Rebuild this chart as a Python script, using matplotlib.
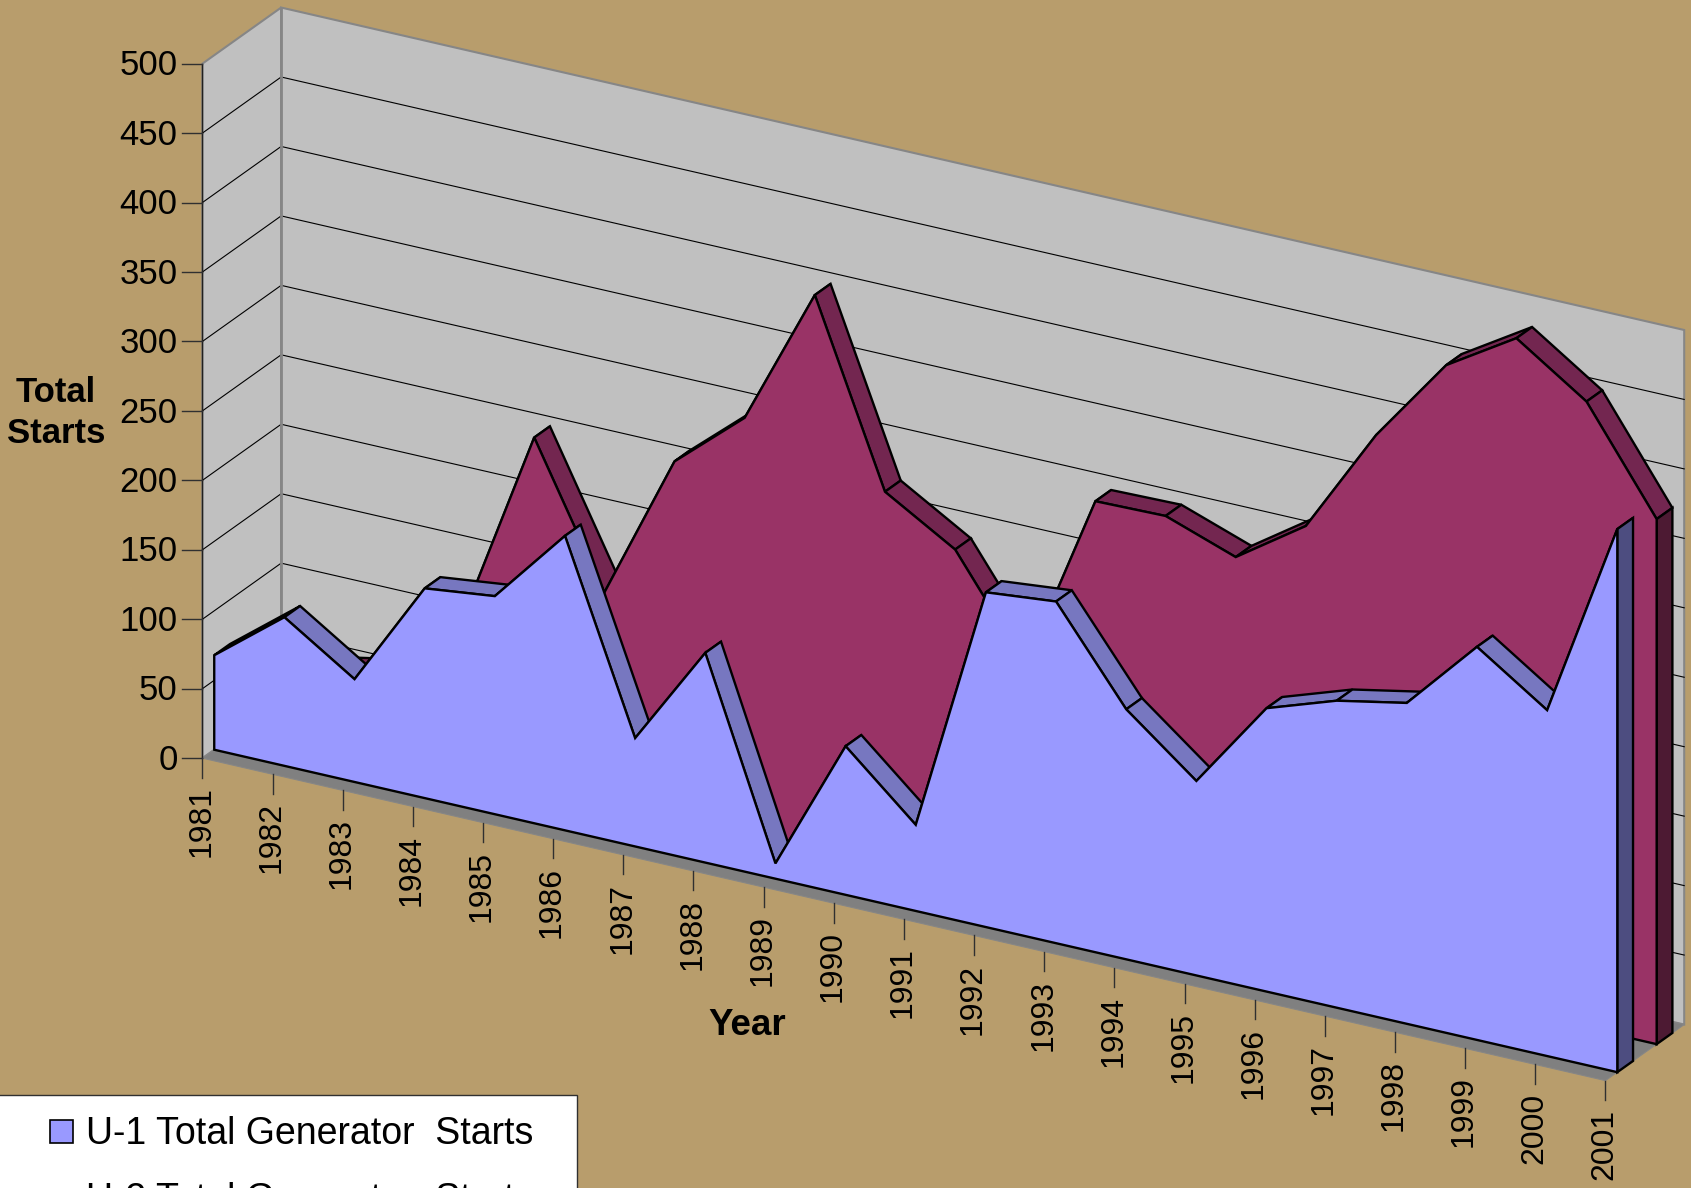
import matplotlib
matplotlib.use('Agg')
import matplotlib.pyplot as plt
from matplotlib.patches import Rectangle

plt.rcParams['font.family'] = ['Liberation Sans', 'DejaVu Sans']

years = [1981, 1982, 1983, 1984, 1985, 1986, 1987, 1988, 1989, 1990, 1991,
         1992, 1993, 1994, 1995, 1996, 1997, 1998, 1999, 2000, 2001]
u1_starts = [68, 107, 74, 151, 157, 212, 78, 151, 11, 107, 62,
             241, 246, 180, 140, 204, 221, 231, 283, 249, 391]
u2_starts = [46, 50, 60, 112, 251, 151, 257, 300, 400, 270, 240,
             169, 298, 299, 281, 315, 392, 454, 485, 451, 378]
value_ticks = [0, 50, 100, 150, 200, 250, 300, 350, 400, 450, 500]
u1_label = 'U-1 Total Generator  Starts'
u2_label = 'U-2 Total Generator  Starts'

BG = '#b89d6c'
WALL = '#c0c0c0'
EDGE = '#868686'
FLOOR = '#808080'


# the chart is an oblique 3D view: year, value and depth (0 front, 1 back) to picture position
def project(i, value, depth):
    x = 187.7 + 65.05 * i + 73 * depth
    y = 703 + 14.95 * i - 1.288 * value - 52 * depth
    return x, y


def poly(ax, pts, face, edge='black', lw=1.7, zorder=3):
    xs = [p[0] for p in pts]
    ys = [p[1] for p in pts]
    ax.fill(xs, ys, facecolor=face, edgecolor=edge, linewidth=lw, joinstyle='miter', zorder=zorder)


def draw_series(ax, values, d_front, d_back, front, side, end):
    n = len(values)
    for i in range(n - 1):
        poly(ax, [project(i, values[i], d_front), project(i, values[i], d_back),
                  project(i + 1, values[i + 1], d_back), project(i + 1, values[i + 1], d_front)], side)
    last = n - 1
    poly(ax, [project(last, 0, d_front), project(last, values[last], d_front),
              project(last, values[last], d_back), project(last, 0, d_back)], end)
    pts = [project(0, 0, d_front)]
    pts += [project(i, values[i], d_front) for i in range(n)]
    pts += [project(last, 0, d_front)]
    poly(ax, pts, front)


fig = plt.figure(figsize=(16.91, 11.88), dpi=100, facecolor=BG)
ax = fig.add_axes([0, 0, 1, 1])
ax.set_xlim(0, 1568)
ax.set_ylim(1101.6, 0)
ax.axis('off')

last = len(years) - 1
top = value_ticks[-1]

# walls and floor
poly(ax, [project(0, 0, 0), project(0, top, 0), project(0, top, 1), project(0, 0, 1)], WALL, EDGE, 1.5, 1)
poly(ax, [project(0, 0, 1), project(0, top, 1), project(last, top, 1), project(last, 0, 1)], WALL, EDGE, 1.5, 1)
poly(ax, [project(0, 0, 0), project(0, 0, 1), project(last, 0, 1), project(last, 0, 0)], FLOOR, EDGE, 0.8, 1)

for v in value_ticks[1:-1]:
    a = project(0, v, 0)
    b = project(0, v, 1)
    c = project(last, v, 1)
    ax.plot([a[0], b[0], c[0]], [a[1], b[1], c[1]], color='black', linewidth=0.8, zorder=2)
a = project(0, 0, 1)
b = project(0, top, 1)
ax.plot([a[0], b[0]], [a[1], b[1]], color=EDGE, linewidth=2, zorder=2)

draw_series(ax, u2_starts, 0.65, 0.85, '#993366', '#732650', '#4d1a33')
draw_series(ax, u1_starts, 0.15, 0.35, '#9999ff', '#7777c0', '#4d4d80')

# value axis
a = project(0, 0, 0)
b = project(0, top, 0)
ax.plot([a[0], b[0]], [a[1], b[1]], color='#202020', linewidth=1, zorder=4)
for v in value_ticks:
    x, y = project(0, v, 0)
    ax.plot([x - 19, x], [y, y], color='#303030', linewidth=1, zorder=4)
    ax.text(x - 23, y + 2, str(v), ha='right', va='center', fontsize=25, color='black')

# year axis
for i, yr in enumerate(years):
    x, y = project(i, 0, 0)
    ax.plot([x, x], [y, y + 18], color='#303030', linewidth=1, zorder=4)
    ax.text(x - 1, y + 26, str(yr), rotation=90, ha='center', va='top', fontsize=23, color='black')

ax.text(52, 383, 'Total\nStarts', ha='center', va='center', fontsize=25, fontweight='bold',
        multialignment='center', linespacing=1.3)
ax.text(693, 951, 'Year', ha='center', va='center', fontsize=26.5, fontweight='bold')

# legend box runs off the bottom of the picture, as in the source
ax.add_patch(Rectangle((-5, 1015), 540, 120, facecolor='white', edgecolor='#303030', linewidth=1, zorder=5))
ax.add_patch(Rectangle((46, 1039), 22, 21, facecolor='#9999ff', edgecolor='black', linewidth=1.2, zorder=6))
ax.add_patch(Rectangle((46, 1122), 22, 21, facecolor='#993366', edgecolor='black', linewidth=1.2, zorder=6))
ax.text(79.5, 1061, u1_label, ha='left', va='baseline', fontsize=27, color='black', zorder=7)
ax.text(79.5, 1122, u2_label, ha='left', va='baseline', fontsize=27, color='black', clip_on=True, zorder=7)

fig.savefig('out.png', dpi=100, facecolor=BG)
